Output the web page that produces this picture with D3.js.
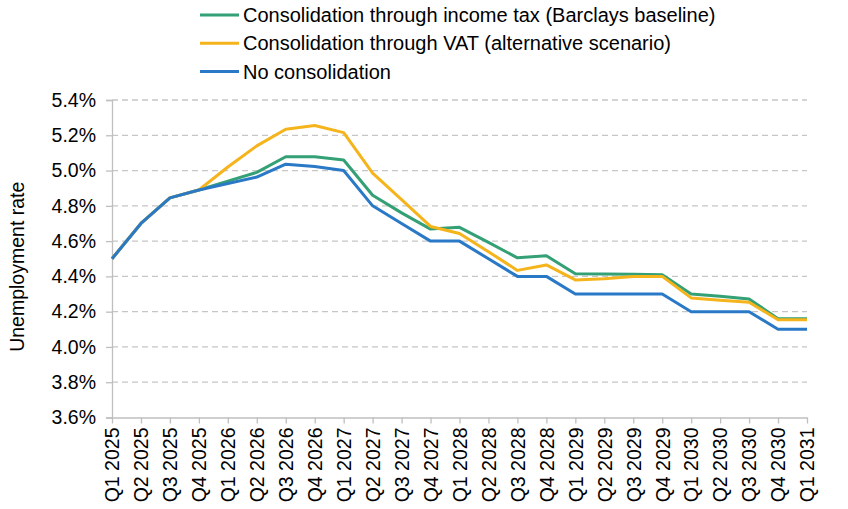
<!DOCTYPE html>
<html>
<head>
<meta charset="utf-8">
<script src="https://cdn.jsdelivr.net/npm/d3@7"></script>
<style>
  body { margin: 0; background: #fff; }
  text { font-family: "Liberation Sans", Arial, sans-serif; fill: #000; }
</style>
</head>
<body>
<script>
const quarters = ['Q1 2025', 'Q2 2025', 'Q3 2025', 'Q4 2025',
  'Q1 2026', 'Q2 2026', 'Q3 2026', 'Q4 2026',
  'Q1 2027', 'Q2 2027', 'Q3 2027', 'Q4 2027',
  'Q1 2028', 'Q2 2028', 'Q3 2028', 'Q4 2028',
  'Q1 2029', 'Q2 2029', 'Q3 2029', 'Q4 2029',
  'Q1 2030', 'Q2 2030', 'Q3 2030', 'Q4 2030', 'Q1 2031'];

const incomeTax = [4.50, 4.70, 4.845, 4.89, 4.94, 4.99, 5.078, 5.078, 5.06, 4.86, 4.76, 4.668,
  4.678, 4.593, 4.505, 4.517, 4.415, 4.413, 4.412, 4.41, 4.30, 4.287, 4.272, 4.16, 4.16];
const vat = [4.50, 4.70, 4.845, 4.89, 5.02, 5.14, 5.234, 5.255, 5.215, 4.985, 4.835, 4.683,
  4.643, 4.54, 4.434, 4.465, 4.38, 4.386, 4.40, 4.40, 4.278, 4.265, 4.253, 4.154, 4.154];
const noConsolidation = [4.50, 4.70, 4.845, 4.89, 4.927, 4.963, 5.036, 5.023, 5.00, 4.80, 4.70, 4.60,
  4.60, 4.50, 4.40, 4.40, 4.30, 4.30, 4.30, 4.30, 4.20, 4.20, 4.20, 4.10, 4.10];

const yTicks = [3.6, 3.8, 4.0, 4.2, 4.4, 4.6, 4.8, 5.0, 5.2, 5.4];

const series = [
  { name: 'Consolidation through income tax (Barclays baseline)', values: incomeTax, color: '#33a075' },
  { name: 'Consolidation through VAT (alternative scenario)', values: vat, color: '#f5b41c' },
  { name: 'No consolidation', values: noConsolidation, color: '#2a79c7' }
];

const width = 848, height = 509;
const margin = { left: 112, right: 41, top: 100, bottom: 91.5 };
const fontSize = '19.5px';

const svg = d3.select('body').append('svg').attr('width', width).attr('height', height);

const x = d3.scalePoint().domain(quarters).range([margin.left, width - margin.right]);
const y = d3.scaleLinear().domain([3.6, 5.4]).range([height - margin.bottom, margin.top]);

// gridlines
svg.append('g')
  .selectAll('line')
  .data(yTicks.filter(d => d > 3.6))
  .enter().append('line')
  .attr('x1', margin.left)
  .attr('x2', width - margin.right)
  .attr('y1', d => y(d))
  .attr('y2', d => y(d))
  .attr('stroke', '#c6c6c6')
  .attr('stroke-width', 1.3)
  .attr('stroke-dasharray', '6,4');

// y axis
const yAxis = svg.append('g')
  .attr('transform', `translate(${margin.left},0)`)
  .call(d3.axisLeft(y).tickValues(yTicks).tickFormat(d => d.toFixed(1) + '%').tickSize(6).tickPadding(10));
yAxis.select('.domain').attr('stroke', '#bfbfbf').attr('stroke-width', 1.3);
yAxis.selectAll('.tick line').attr('stroke', '#bfbfbf').attr('stroke-width', 1.3);
yAxis.selectAll('.tick text').style('font-size', fontSize).attr('fill', '#000');

// x axis
const xAxis = svg.append('g')
  .attr('transform', `translate(0,${height - margin.bottom})`)
  .call(d3.axisBottom(x).tickSize(6).tickSizeOuter(0));
xAxis.select('.domain').attr('stroke', '#bfbfbf').attr('stroke-width', 1.3);
xAxis.selectAll('.tick line').attr('stroke', '#bfbfbf').attr('stroke-width', 1.3);
xAxis.selectAll('.tick text')
  .style('font-size', fontSize)
  .attr('fill', '#000')
  .attr('transform', 'rotate(-90)')
  .attr('text-anchor', 'end')
  .attr('x', -10)
  .attr('y', 0)
  .attr('dy', '0.35em');

// y axis title
svg.append('text')
  .attr('transform', `translate(24,${(margin.top + height - margin.bottom) / 2 + 8}) rotate(-90)`)
  .attr('text-anchor', 'middle')
  .style('font-size', fontSize)
  .text('Unemployment rate');

// lines
const line = d3.line()
  .x((d, i) => x(quarters[i]))
  .y(d => y(d));

svg.selectAll('path.series')
  .data(series)
  .enter().append('path')
  .attr('class', 'series')
  .attr('d', d => line(d.values))
  .attr('fill', 'none')
  .attr('stroke', d => d.color)
  .attr('stroke-width', 3)
  .attr('stroke-linejoin', 'round');

// legend
const legend = svg.append('g').attr('transform', 'translate(200,15)');
const rows = legend.selectAll('g')
  .data(series)
  .enter().append('g')
  .attr('transform', (d, i) => `translate(0,${i * 28.3})`);
rows.append('line')
  .attr('x1', 0).attr('x2', 39)
  .attr('stroke', d => d.color)
  .attr('stroke-width', 3);
rows.append('text')
  .attr('x', 43)
  .attr('dy', '0.35em')
  .style('font-size', '20px')
  .text(d => d.name);
</script>
</body>
</html>
